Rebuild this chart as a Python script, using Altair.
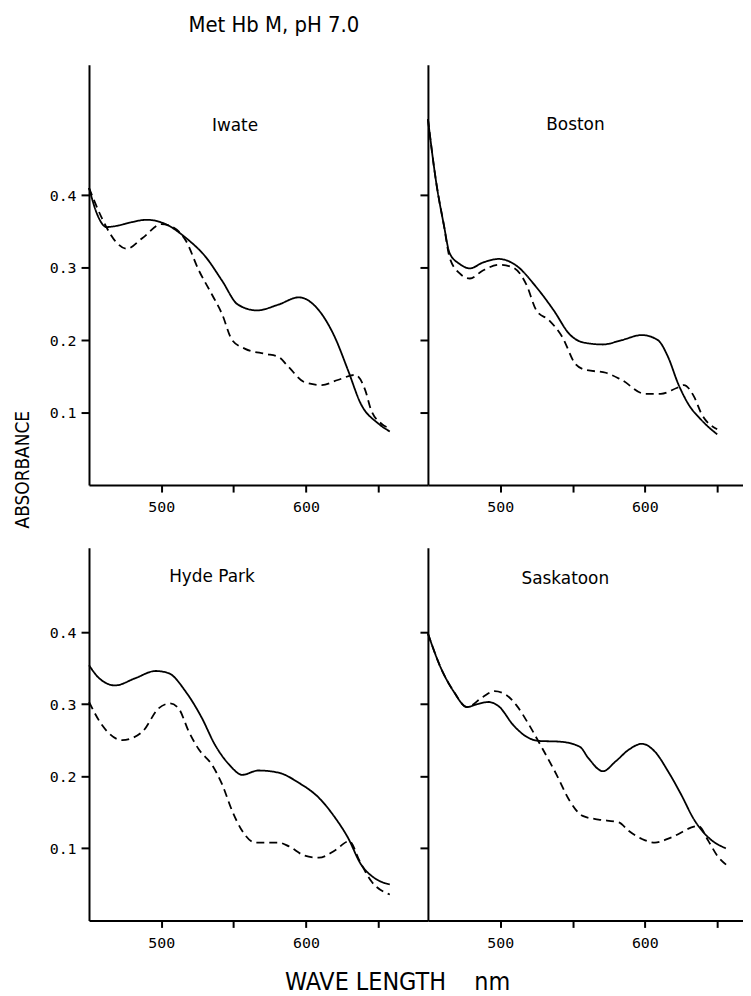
import altair as alt
import pandas as pd

TITLE = "Met Hb M, pH 7.0"
X_TITLE = "WAVE LENGTH\u00a0\u00a0\u00a0\u00a0nm"
Y_TITLE = "ABSORBANCE"

# ---- Iwate ----
iwate_solid_nm = [450, 456, 462, 470, 478, 490, 503, 517, 531, 542, 553, 566, 581, 595, 609, 620, 629, 638, 650, 658]
iwate_solid_a = [0.410, 0.372, 0.356, 0.358, 0.362, 0.366, 0.360, 0.341, 0.314, 0.282, 0.249, 0.241, 0.249, 0.259, 0.241, 0.204, 0.159, 0.112, 0.085, 0.074]
iwate_dash_nm = [450, 459, 468, 476, 487, 500, 507, 517, 526, 535, 542, 549, 558, 572, 581, 588, 599, 611, 622, 634, 641, 645, 652, 659]
iwate_dash_a = [0.410, 0.368, 0.337, 0.326, 0.341, 0.360, 0.357, 0.337, 0.296, 0.263, 0.236, 0.200, 0.188, 0.181, 0.177, 0.163, 0.142, 0.138, 0.145, 0.152, 0.131, 0.104, 0.085, 0.078]

# ---- Boston ----
boston_solid_nm = [450, 456, 461, 465, 472, 479, 488, 499, 511, 525, 537, 548, 557, 571, 584, 598, 609, 616, 623, 630, 639, 650]
boston_solid_a = [0.505, 0.414, 0.359, 0.320, 0.305, 0.299, 0.307, 0.312, 0.303, 0.273, 0.241, 0.208, 0.197, 0.194, 0.200, 0.207, 0.200, 0.177, 0.140, 0.112, 0.090, 0.070]
boston_dash_nm = [450, 456, 461, 465, 472, 479, 488, 499, 509, 518, 525, 534, 543, 552, 559, 573, 584, 600, 611, 622, 627, 634, 639, 650]
boston_dash_a = [0.505, 0.414, 0.359, 0.314, 0.292, 0.285, 0.296, 0.304, 0.300, 0.277, 0.241, 0.227, 0.204, 0.167, 0.159, 0.155, 0.145, 0.126, 0.126, 0.134, 0.138, 0.122, 0.099, 0.077]

# ---- Hyde Park ----
hyde_solid_nm = [450, 457, 468, 482, 496, 505, 517, 528, 537, 547, 556, 567, 581, 595, 609, 620, 629, 638, 648, 658]
hyde_solid_a = [0.354, 0.336, 0.326, 0.336, 0.346, 0.343, 0.317, 0.281, 0.244, 0.216, 0.202, 0.208, 0.205, 0.191, 0.170, 0.143, 0.115, 0.078, 0.058, 0.050]
hyde_dash_nm = [450, 459, 473, 487, 498, 506, 512, 519, 526, 535, 542, 549, 556, 565, 581, 588, 599, 609, 620, 630, 637, 645, 658]
hyde_dash_a = [0.303, 0.271, 0.250, 0.262, 0.294, 0.301, 0.294, 0.262, 0.237, 0.216, 0.189, 0.152, 0.124, 0.108, 0.108, 0.103, 0.090, 0.087, 0.097, 0.110, 0.083, 0.055, 0.036]

# ---- Saskatoon ----
sask_solid_nm = [450, 459, 468, 477, 484, 492, 499, 509, 518, 527, 541, 555, 561, 571, 580, 589, 598, 607, 616, 625, 634, 644, 656]
sask_solid_a = [0.398, 0.350, 0.317, 0.296, 0.300, 0.303, 0.297, 0.271, 0.255, 0.249, 0.248, 0.241, 0.225, 0.207, 0.221, 0.237, 0.245, 0.234, 0.207, 0.175, 0.140, 0.115, 0.100]
sask_dash_nm = [450, 459, 468, 477, 488, 496, 504, 511, 520, 529, 539, 548, 557, 568, 582, 589, 598, 607, 618, 637, 644, 650, 657]
sask_dash_a = [0.398, 0.350, 0.317, 0.296, 0.310, 0.318, 0.313, 0.299, 0.271, 0.239, 0.202, 0.166, 0.145, 0.140, 0.136, 0.124, 0.113, 0.108, 0.115, 0.131, 0.110, 0.090, 0.076]

panel_names = ["Iwate", "Boston", "Hyde Park", "Saskatoon"]
label_nm = [551, 552, 535, 545]
label_a = [0.495, 0.497, 0.477, 0.474]

x_ticks = [500, 550, 600, 650]
y_ticks = [0.1, 0.2, 0.3, 0.4]

NARROW = "DejaVu Sans Condensed, Liberation Sans Narrow, sans-serif"
MONO = "DejaVu Sans Mono"


def make_panel(name, s_nm, s_a, d_nm, d_a, lnm, la, width, height, xmax, ymax,
               ylabels, xtitle=None, ytitle=None, main_title=False):
    df = pd.concat([
        pd.DataFrame({"nm": s_nm, "A": s_a, "kind": "solid"}),
        pd.DataFrame({"nm": d_nm, "A": d_a, "kind": "dashed"}),
    ])
    xaxis_kw = dict(
        values=x_ticks,
        labelExpr="datum.value == 550 || datum.value == 650 ? '' : datum.label",
        tickSize=7, tickWidth=2, domainWidth=2, domainColor="black", tickColor="black",
        labelFont=MONO, labelFontSize=15, labelColor="black", labelPadding=8,
        grid=False,
    )
    if xtitle:
        xaxis_kw.update(title=xtitle, titleX=310, titleY=61, titleFont=NARROW,
                        titleFontSize=25, titleFontWeight="normal", titleColor="black",
                        titleBaseline="middle", titleAlign="center", titleAngle=0)
    else:
        xaxis_kw.update(title=None)
    yaxis_kw = dict(
        values=y_ticks, format=".1f", labels=ylabels,
        tickSize=8, tickWidth=2, domainWidth=2, domainColor="black", tickColor="black",
        labelFont=MONO, labelFontSize=15, labelColor="black", labelPadding=5,
        grid=False,
    )
    if ytitle:
        yaxis_kw.update(title=ytitle, titleX=-67, titleY=407, titleFont=NARROW,
                        titleFontSize=19, titleFontWeight="normal", titleColor="black",
                        titleBaseline="middle", titleAlign="center", titleAngle=270)
    else:
        yaxis_kw.update(title=None)

    x = alt.X("nm:Q", scale=alt.Scale(domain=[450, xmax], nice=False, zero=False),
              axis=alt.Axis(**xaxis_kw))
    y = alt.Y("A:Q", scale=alt.Scale(domain=[0, ymax], nice=False, zero=False),
              axis=alt.Axis(**yaxis_kw))

    lines = alt.Chart(df).mark_line(color="black", strokeWidth=1.8, interpolate="monotone").encode(
        x=x, y=y,
        strokeDash=alt.StrokeDash("kind:N", scale=alt.Scale(domain=["solid", "dashed"],
                                                             range=[[1, 0], [8, 5]]),
                                  legend=None),
        detail="kind:N",
    )
    lab = alt.Chart(pd.DataFrame({"nm": [lnm], "A": [la], "t": [name]})).mark_text(
        font="DejaVu Sans", fontSize=17, color="black", align="center", baseline="middle"
    ).encode(x="nm:Q", y="A:Q", text="t:N")
    layers = [lines, lab]
    if main_title:
        layers.append(
            alt.Chart(pd.DataFrame({"t": [TITLE]})).mark_text(
                font=NARROW, fontSize=22, color="black", align="center", baseline="alphabetic"
            ).encode(x=alt.value(186), y=alt.value(-33), text="t:N")
        )
    return alt.layer(*layers).properties(width=width, height=height)


W_L, W_R = 341, 317
H_T, H_B = 423, 375
XMAX_L = 450 + W_L / 1.455
XMAX_R = 450 + W_R / 1.455

tl = make_panel("Iwate", iwate_solid_nm, iwate_solid_a, iwate_dash_nm, iwate_dash_a,
                label_nm[0], label_a[0], W_L, H_T, XMAX_L, 0.58, True,
                ytitle=Y_TITLE, main_title=True)
tr = make_panel("Boston", boston_solid_nm, boston_solid_a, boston_dash_nm, boston_dash_a,
                label_nm[1], label_a[1], W_R, H_T, XMAX_R, 0.58, False)
bl = make_panel("Hyde Park", hyde_solid_nm, hyde_solid_a, hyde_dash_nm, hyde_dash_a,
                label_nm[2], label_a[2], W_L, H_B, XMAX_L, 0.517, True, xtitle=X_TITLE)
br = make_panel("Saskatoon", sask_solid_nm, sask_solid_a, sask_dash_nm, sask_dash_a,
                label_nm[3], label_a[3], W_R, H_B, XMAX_R, 0.517, False)

chart = alt.concat(tl, tr, bl, br, columns=2, spacing={"row": 63, "column": 0},
                   bounds="flush").configure_view(
    stroke=None
).properties(padding={"left": 5.5, "top": 3, "right": 0, "bottom": 0}, background="white")

chart.save("out.html", embed_options={"renderer": "svg", "actions": False})
